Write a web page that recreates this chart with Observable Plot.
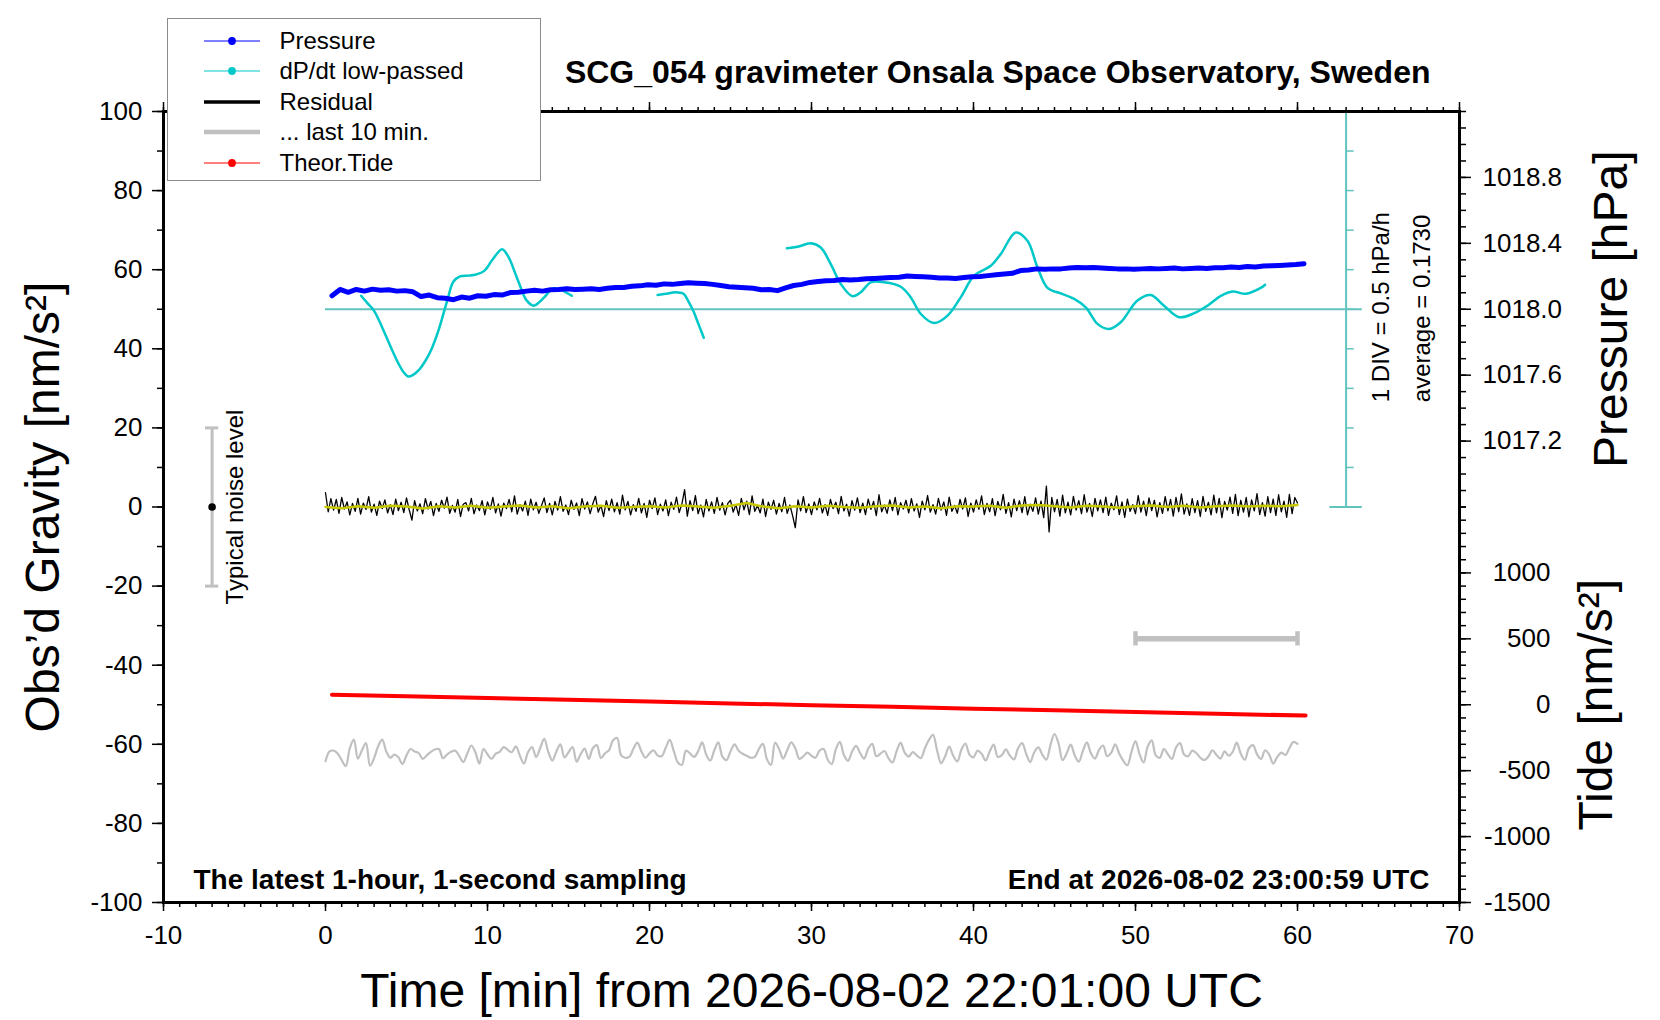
<!DOCTYPE html>
<html>
<head>
<meta charset="utf-8">
<script src="https://cdn.jsdelivr.net/npm/d3@7"></script>
<script src="https://cdn.jsdelivr.net/npm/@observablehq/plot@0.6"></script>
<style>
html, body { margin: 0; padding: 0; background: #fff; overflow: hidden; }
#wrap { position: relative; width: 1660px; height: 1020px; }
#legend { position: absolute; left: 167px; top: 18px; width: 374px; height: 163px; box-sizing: border-box;
  border: 1.5px solid #8c8c8c; background: #fff; font-family: "Liberation Sans", Arial, sans-serif; font-size: 24px; color: #000; }
#legend .row { position: absolute; left: 0; height: 30px; width: 100%; }
#legend .row svg { position: absolute; left: 35.5px; top: 8px; }
#legend .row span { position: absolute; left: 111.5px; top: 1px; line-height: 28px; white-space: nowrap; }
</style>
</head>
<body>
<div id="wrap"><div id="legend"></div></div>
<script>
// ---------------- DATA ----------------
const titleText = "SCG_054 gravimeter Onsala Space Observatory, Sweden";
const xLabel = "Time [min] from 2026-08-02 22:01:00 UTC";
const yLabel = "Obs\u2019d Gravity [nm/s\u00b2]";
const pressureLabel = "Pressure [hPa]";
const tideLabel = "Tide [nm/s\u00b2]";
const leftNote = "The latest 1-hour, 1-second sampling";
const rightNote = "End at 2026-08-02 23:00:59 UTC";

const xTicks = [-10, 0, 10, 20, 30, 40, 50, 60, 70];
const yTicks = [-100, -80, -60, -40, -20, 0, 20, 40, 60, 80, 100];
const pressureTicks = [1017.2, 1017.6, 1018.0, 1018.4, 1018.8];
const tideTicks = [-1500, -1000, -500, 0, 500, 1000];

// legend
const legendLabels = ["Pressure", "dP/dt low-passed", "Residual", "... last 10 min.", "Theor.Tide"];
const legendColors = ["#0000ff", "#00c8c8", "#000000", "#c0c0c0", "#ff0000"];
const legendWidths = [1.2, 1.2, 3.5, 4.5, 1.2];
const legendDots = [true, true, false, false, true];

// Pressure [hPa], every 0.5 min starting at 0.4 min
const pressureStart = 0.4, pressureStep = 0.5;
const pressureHPa = [
  1018.082, 1018.120, 1018.103, 1018.120, 1018.110, 1018.122, 1018.115, 1018.118, 1018.110, 1018.113,
  1018.106, 1018.077, 1018.086, 1018.070, 1018.067, 1018.058, 1018.074, 1018.067, 1018.082, 1018.079,
  1018.089, 1018.086, 1018.101, 1018.103, 1018.110, 1018.115, 1018.110, 1018.118, 1018.120, 1018.125,
  1018.120, 1018.122, 1018.125, 1018.120, 1018.127, 1018.132, 1018.132, 1018.139, 1018.142, 1018.149,
  1018.146, 1018.154, 1018.151, 1018.156, 1018.161, 1018.158, 1018.156, 1018.151, 1018.144, 1018.137,
  1018.134, 1018.130, 1018.127, 1018.118, 1018.120, 1018.113, 1018.130, 1018.144, 1018.151, 1018.163,
  1018.168, 1018.173, 1018.175, 1018.180, 1018.178, 1018.180, 1018.185, 1018.187, 1018.190, 1018.192,
  1018.194, 1018.202, 1018.199, 1018.197, 1018.194, 1018.190, 1018.190, 1018.187, 1018.192, 1018.197,
  1018.199, 1018.204, 1018.209, 1018.214, 1018.218, 1018.235, 1018.238, 1018.245, 1018.242, 1018.245,
  1018.245, 1018.250, 1018.254, 1018.252, 1018.254, 1018.250, 1018.247, 1018.245, 1018.245, 1018.242,
  1018.245, 1018.247, 1018.245, 1018.247, 1018.250, 1018.245, 1018.247, 1018.250, 1018.247, 1018.252,
  1018.252, 1018.257, 1018.254, 1018.259, 1018.257, 1018.262, 1018.264, 1018.266, 1018.269, 1018.271,
  1018.276
];

// dP/dt low-passed [hPa/h], three pieces
const dpdtAverage = 0.1730;
const divStep = 0.5;          // hPa/h per division
const cyanSegment = [
  1,1,1,1,1,1,1,1,1,1,1,1,1,1,1,1,1,1,1,1,1,1,1,1,1,1,1,1,1,1,
  2,2,2,2,2,2,2,2,
  3,3,3,3,3,3,3,3,3,3,3,3,3,3,3,3,3,3,3,3,3,3,3,3,3,3,3,3,3,3,3,3,3,3,3,3,3,3,3,3
];
const cyanTime = [
  2.2, 2.6, 3.0, 3.5, 4.0, 4.5, 4.8, 5.1, 5.4, 5.8, 6.2, 6.5, 7.0, 7.5, 7.9, 8.3, 8.8, 9.3, 9.8, 10.3,
  10.9, 11.3, 11.7, 12.05, 12.4, 12.86, 13.2, 13.5, 14.1, 15.2,
  20.5, 21.0, 21.6, 22.1, 22.4, 22.7, 23.0, 23.35,
  28.48, 29.14, 29.96, 30.57, 31.19, 31.81, 32.53, 33.04, 33.66, 34.48, 35.51, 36.13, 36.75, 37.57, 38.4,
  39.21, 40.04, 41.07, 41.69, 42.61, 43.33, 43.95, 44.57, 45.39, 46.21, 46.93, 47.65, 48.37, 49.09, 50.12,
  50.94, 51.76, 52.69, 53.62, 54.44, 55.27, 55.99, 56.81, 57.73, 58.0
];
const cyanRate = [
  0.343, 0.248, 0.153, -0.057, -0.292, -0.512, -0.617, -0.677, -0.657, -0.587, -0.467, -0.352, -0.077, 0.273, 0.523, 0.588, 0.598, 0.613, 0.658, 0.798,
  0.933, 0.833, 0.633, 0.448, 0.288, 0.218, 0.263, 0.323, 0.438, 0.343,
  0.353, 0.368, 0.388, 0.368, 0.273, 0.153, -0.002, -0.187,
  0.943, 0.963, 1.006, 0.953, 0.743, 0.493, 0.338, 0.388, 0.513, 0.513, 0.458, 0.323, 0.113, -0.002, 0.093,
  0.323, 0.598, 0.723, 0.873, 1.143, 1.038, 0.703, 0.443, 0.373, 0.303, 0.198, -0.012, -0.077, 0.008, 0.283,
  0.353, 0.218, 0.073, 0.123, 0.218, 0.343, 0.398, 0.368, 0.443, 0.483
];

// Residual [nm/s^2], every 10 s from 0 to 60 min
const residualStep = 1 / 6;
const residual = [
  3.6,-1.2,2.1,-0.8,1.9,-1.6,2.4,-0.5,1.3,-2.0,0.9,-1.1,
  2.2,-1.8,1.0,-0.6,2.6,-1.3,0.7,-2.1,1.5,-0.4,1.8,-1.5,
  0.6,-1.9,2.0,-0.9,1.2,-1.4,2.3,-0.7,-3.3,1.6,-1.0,0.8,
  -1.7,2.1,-0.5,1.4,-2.2,0.9,-1.1,1.7,-0.3,2.5,-1.6,0.4,
  -1.3,1.9,-2.4,0.7,1.1,-1.0,2.2,-1.7,0.5,-0.9,1.6,-2.0,
  1.3,-0.6,2.4,-1.5,0.8,-2.3,1.0,-0.4,1.9,-1.2,2.8,-1.8,
  0.6,-1.0,1.5,-2.1,2.0,-0.7,1.2,-1.6,0.3,2.3,-1.4,0.9,
  -2.0,1.4,-0.8,2.6,-1.1,0.5,-1.9,1.7,-0.6,1.0,-2.2,2.1,
  -0.5,1.3,-1.7,0.8,2.7,-1.3,0.4,-2.4,1.6,-0.9,2.0,-1.2,
  1.1,-1.8,3.0,-0.7,1.4,-2.0,0.6,-1.1,2.2,-1.5,0.9,-2.6,
  1.7,-0.4,2.3,-1.9,0.7,-1.0,1.8,-2.2,1.2,-0.6,2.5,-1.4,
  0.8,4.4,-2.3,1.6,-0.9,2.9,-1.7,0.5,-2.5,1.9,-1.0,1.3,
  -1.6,2.4,-0.8,1.1,-2.0,0.9,1.7,-1.3,0.6,-2.1,2.2,-0.7,
  1.5,-1.9,2.8,-1.1,0.4,-1.5,2.0,-2.4,1.2,-0.6,1.7,-1.8,
  0.9,-1.2,2.4,-1.6,0.5,-2.2,-5.2,1.8,-1.0,2.6,-1.4,0.8,
  -1.9,1.3,-0.7,2.2,-1.5,0.6,-2.1,1.9,-0.4,1.2,-1.7,2.7,
  -1.0,0.7,-2.3,1.6,-0.8,2.3,-1.4,1.0,-1.9,2.0,-0.6,1.4,
  -2.2,3.1,-1.2,0.5,-1.6,1.8,-0.9,2.4,-2.0,1.1,-0.5,1.7,
  -1.5,2.1,-1.0,0.8,-2.6,1.5,-0.7,2.9,-1.3,0.6,-1.8,2.2,
  -0.8,1.3,-2.1,2.5,-1.1,0.4,-1.6,1.9,-0.5,2.3,-2.4,1.0,
  -1.3,1.8,-0.6,2.8,-1.9,0.9,-1.2,2.1,-2.2,1.4,-0.7,3.2,
  -1.6,1.1,-2.5,2.0,-0.9,1.6,-1.4,2.6,-2.0,0.7,-1.1,2.3,
  -1.8,1.5,-2.7,5.3,-6.3,2.4,-1.2,1.9,-2.3,3.0,-1.5,1.2,
  -2.0,2.7,-0.8,1.6,-1.7,3.1,-1.3,0.9,-2.4,2.2,-1.0,1.8,
  -1.4,2.5,-2.1,1.0,-0.7,2.8,-1.9,1.3,-2.6,2.0,-1.1,0.6,
  -1.7,2.9,-1.3,1.5,-2.2,2.3,-0.9,1.7,-2.5,1.1,-1.6,2.6,
  -1.0,1.9,-2.3,2.4,-1.2,3.3,-1.8,0.8,-2.1,2.1,-1.4,1.6,
  -2.4,2.7,-1.1,1.2,-2.0,3.0,-1.5,2.2,-2.7,1.4,-0.8,2.5,
  -1.6,3.2,-2.2,1.7,-1.3,2.4,-2.5,1.8,-1.0,3.4,-1.9,1.1,
  -2.3,2.6,-1.4,2.0,-2.1,3.1,-1.2,1.5,-2.6,3.2,-1.7,2.4,
  1.0
];

// Smoothed residual (yellow), every 1 min
const smoothedStep = 1;
const smoothed = [
  0.0,-0.3,0.2,-0.2,0.3,0.1,-0.4,0.2,-0.1,0.3,
  -0.2,0.1,0.4,-0.1,0.2,-0.3,0.1,0.3,-0.2,0.0,
  0.2,-0.1,0.4,0.1,-0.2,0.3,1.0,0.1,-0.3,0.2,
  -0.1,0.3,0.0,-0.2,0.2,0.4,-0.1,0.1,-0.3,0.2,
  0.1,0.3,-0.2,0.4,0.5,0.2,-0.1,0.3,0.1,-0.2,
  0.2,0.4,0.0,0.3,-0.1,0.2,0.4,0.1,0.3,0.2,
  0.5
];

// Theoretical tide [nm/s^2]
const tideTime = [0.4, 5, 10, 15, 20, 25, 30, 35, 40, 45, 50, 55, 60.5];
const tideValues = [76, 64, 51, 37, 24, 10, -3, -16, -30, -42, -55, -69, -82];

// "... last 10 min." trace as plotted [nm/s^2], every 0.25 min
const lastStep = 0.25;
const lastTen = [
  -64.3,-61.8,-61.6,-62.3,-64.0,-65.5,-61.0,-58.8,
  -63.6,-61.5,-59.7,-65.4,-63.5,-60.5,-58.8,-61.8,
  -63.4,-62.6,-63.3,-65.0,-62.8,-61.2,-61.8,-62.2,
  -63.7,-62.8,-61.9,-61.3,-61.2,-63.5,-62.6,-61.9,
  -61.6,-62.9,-64.5,-62.4,-60.3,-62.0,-64.9,-61.2,
  -62.5,-63.7,-62.4,-61.9,-60.7,-61.4,-62.0,-60.5,
  -62.9,-64.9,-62.0,-60.7,-63.2,-61.0,-58.6,-61.9,
  -64.1,-61.8,-60.0,-63.3,-62.0,-60.7,-64.4,-62.5,
  -61.1,-63.7,-61.0,-60.2,-63.5,-62.3,-61.5,-59.0,
  -58.4,-62.8,-63.4,-63.2,-61.2,-59.6,-61.8,-63.4,
  -62.3,-61.5,-62.8,-63.0,-60.9,-58.9,-61.7,-64.6,
  -65.2,-61.6,-62.3,-63.2,-61.8,-59.5,-62.6,-64.1,
  -61.5,-59.5,-63.1,-64.0,-61.8,-60.0,-61.6,-62.4,
  -62.9,-63.4,-63.2,-61.2,-59.9,-63.8,-65.2,-59.6,
  -61.2,-63.6,-61.5,-59.5,-61.0,-63.7,-63.0,-62.1,
  -62.9,-63.4,-61.6,-61.2,-63.9,-65.0,-61.3,-59.4,
  -62.7,-64.2,-61.9,-60.4,-62.2,-63.6,-61.1,-59.9,
  -63.0,-62.4,-61.7,-63.5,-64.6,-61.8,-59.6,-62.1,
  -63.1,-62.0,-62.8,-63.5,-61.0,-58.9,-57.6,-61.5,
  -64.8,-63.0,-60.6,-62.9,-64.3,-61.4,-59.8,-62.6,
  -63.3,-61.6,-62.4,-64.1,-61.8,-60.1,-63.2,-62.7,
  -61.3,-62.9,-63.8,-61.0,-59.7,-62.4,-64.5,-62.0,
  -60.8,-62.6,-63.9,-60.2,-57.4,-59.8,-64.0,-62.3,
  -60.1,-62.8,-64.4,-61.7,-59.5,-62.3,-63.6,-61.4,
  -60.3,-63.0,-62.1,-60.0,-62.4,-64.2,-65.3,-61.9,
  -59.2,-62.5,-64.6,-60.6,-59.0,-62.8,-63.4,-61.2,
  -62.5,-63.7,-60.8,-59.7,-62.6,-63.0,-61.6,-62.2,
  -63.4,-64.0,-63.1,-61.5,-62.7,-63.6,-61.8,-62.9,
  -61.9,-59.6,-62.4,-63.9,-61.0,-60.2,-62.5,-63.7,
  -61.5,-62.6,-64.9,-63.2,-62.1,-62.7,-61.0,-59.4,
  -59.9
];

// typical noise level bar, 10-minute span bar
const noiseX = [-7];
const noiseHalf = 20;
const spanStart = 50, spanEnd = 60, spanTide = 500;
const divX = 63;

// ---------------- twin-axis mappings onto the gravity scale ----------------
const pressureToG = p => 50 + (p - 1018.0) / 0.024;      // 0.4 hPa per 16.67 nm/s^2
const gToPressure = g => 1018.0 + (g - 50) * 0.024;
const tideToG = t => -50 + t / 30;                       // 1500 nm/s^2 per 50 units
const gToTide = g => (g + 50) * 30;
const rateToG = r => 50 + (r - dpdtAverage) * (10 / divStep); // 1 DIV = 10 units

// tables
const pressureData = pressureHPa.map((p, i) => ({t: pressureStart + pressureStep * i, g: pressureToG(p)}));
const cyanData = cyanTime.map((t, i) => ({t, g: rateToG(cyanRate[i]), seg: cyanSegment[i]}));
const residualData = residual.map((v, i) => ({t: i * residualStep, v}));
const smoothData = smoothed.map((v, i) => ({t: i * smoothedStep, v}));
const tideData = tideTime.map((t, i) => ({t, g: tideToG(tideValues[i])}));
const lastData = lastTen.map((v, i) => ({t: i * lastStep, v}));

const xMinor = d3.range(-10, 70.5, 1);
const yMinor = d3.range(-100, 100.5, 10);
const pressureMinor = d3.range(0, 25).map(i => 1016.8 + i * 0.1);
const tideMinor = d3.range(-1500, 1500.5, 100);
const divLevels = d3.range(-5, 6).map(k => dpdtAverage + k * divStep);

const teal = "#62c4bf";
const font = "'Liberation Sans', Arial, Helvetica, sans-serif";
const tickW = 1.5;

const chart = Plot.plot({
  width: 1660,
  height: 1020,
  marginLeft: 163,
  marginRight: 201,
  marginTop: 111,
  marginBottom: 118,
  x: {domain: [-10, 70], label: null},
  y: {domain: [-100, 100], label: null},
  style: {fontFamily: font, fontSize: "26px", background: "white", overflow: "visible"},
  marks: [
    // bottom & top time axes
    Plot.axisX(xMinor, {anchor: "bottom", tickSize: 5, fill: "none", strokeWidth: tickW, label: null}),
    Plot.axisX(xTicks, {anchor: "bottom", tickSize: 9, tickPadding: 14, strokeWidth: tickW, fontSize: 26,
      tickFormat: d => String(d), label: null}),
    Plot.axisX(xMinor, {anchor: "top", tickSize: 5, fill: "none", strokeWidth: tickW, label: null}),
    Plot.axisX(xTicks, {anchor: "top", tickSize: 10, fill: "none", strokeWidth: tickW, label: null}),
    // left gravity axis
    Plot.axisY(yMinor, {anchor: "left", tickSize: 6, fill: "none", strokeWidth: tickW, label: null}),
    Plot.axisY(yTicks, {anchor: "left", tickSize: 11, tickPadding: 10, strokeWidth: tickW, fontSize: 26,
      tickFormat: d => String(d), label: null}),
    // right pressure axis
    Plot.axisY(pressureMinor.map(pressureToG), {anchor: "right", tickSize: 6, fill: "none", strokeWidth: tickW, label: null}),
    Plot.axisY(pressureTicks.map(pressureToG), {anchor: "right", tickSize: 11, tickPadding: 12, strokeWidth: tickW,
      fontSize: 26, tickFormat: g => gToPressure(g).toFixed(1), label: null}),
    // right tide axis
    Plot.axisY(tideMinor.map(tideToG), {anchor: "right", tickSize: 6, fill: "none", strokeWidth: tickW, label: null}),
    Plot.axisY(tideTicks.map(tideToG), {anchor: "right", tickSize: 11, tickPadding: 80, textAnchor: "end",
      strokeWidth: tickW, fontSize: 26, tickFormat: g => String(Math.round(gToTide(g))), label: null}),

    // dP/dt reference level and division scale
    Plot.ruleY([dpdtAverage], {y: rateToG, x1: 0, x2: divX + 1, stroke: teal, strokeWidth: 2}),
    Plot.ruleX([divX], {y1: rateToG(divLevels[0]), y2: rateToG(divLevels[divLevels.length - 1]), stroke: teal, strokeWidth: 2}),
    Plot.ruleY(divLevels.slice(1, -1), {y: rateToG, x1: divX, x2: divX + 0.5, stroke: teal, strokeWidth: 1.5}),
    Plot.ruleY([divLevels[0], divLevels[divLevels.length - 1]], {y: rateToG, x1: divX - 1, x2: divX + 1, stroke: teal, strokeWidth: 2}),
    Plot.text([`1 DIV = ${divStep} hPa/h`], {x: 65.15, y: 26.5, rotate: -90, textAnchor: "start", lineAnchor: "middle", fontSize: 24}),
    Plot.text([`average = ${dpdtAverage.toFixed(4)}`], {x: 67.7, y: 26.5, rotate: -90, textAnchor: "start", lineAnchor: "middle", fontSize: 24}),

    // data
    Plot.line(cyanData, {x: "t", y: "g", z: "seg", stroke: "#00c8c8", strokeWidth: 2.5, curve: "catmull-rom"}),
    Plot.line(pressureData, {x: "t", y: "g", stroke: "#0000ff", strokeWidth: 5, strokeLinejoin: "round"}),
    Plot.line(residualData, {x: "t", y: "v", stroke: "#000000", strokeWidth: 1.3}),
    Plot.line(smoothData, {x: "t", y: "v", stroke: "#c8c800", strokeWidth: 2.5}),
    Plot.line(tideData, {x: "t", y: "g", stroke: "#ff0000", strokeWidth: 4}),
    Plot.line(lastData, {x: "t", y: "v", stroke: "#c0c0c0", strokeWidth: 2.2, curve: "catmull-rom"}),

    // 10 min span marker
    Plot.ruleY([spanTide], {y: tideToG, x1: spanStart, x2: spanEnd, stroke: "#c0c0c0", strokeWidth: 5.5}),
    Plot.ruleX([spanStart, spanEnd], {y1: tideToG(spanTide) - 1.8, y2: tideToG(spanTide) + 1.8, stroke: "#c0c0c0", strokeWidth: 4.5}),

    // typical noise level
    Plot.ruleX(noiseX, {y1: -noiseHalf, y2: noiseHalf, stroke: "#c0c0c0", strokeWidth: 3}),
    Plot.ruleY([-noiseHalf, noiseHalf], {x1: noiseX[0] - 0.41, x2: noiseX[0] + 0.41, stroke: "#c0c0c0", strokeWidth: 3}),
    Plot.dot([0], {x: () => noiseX[0], y: d => d, r: 3.8, fill: "black", stroke: "none"}),
    Plot.text(["Typical noise level"], {x: noiseX[0] + 1.43, y: 0, rotate: -90, textAnchor: "middle", lineAnchor: "middle", fontSize: 24}),

    // frame
    Plot.frame({stroke: "black", strokeWidth: 3}),

    // texts
    Plot.text([titleText], {frameAnchor: "top-right", dx: -29, dy: -29, textAnchor: "end", lineAnchor: "bottom",
      fontSize: 32, fontWeight: "bold"}),
    Plot.text([leftNote], {frameAnchor: "bottom-left", dx: 30, dy: -14, textAnchor: "start", lineAnchor: "bottom",
      fontSize: 28, fontWeight: "bold"}),
    Plot.text([rightNote], {frameAnchor: "bottom-right", dx: -30, dy: -14, textAnchor: "end", lineAnchor: "bottom",
      fontSize: 28, fontWeight: "bold"}),
    Plot.text([xLabel], {frameAnchor: "bottom", dy: 104, textAnchor: "middle", lineAnchor: "bottom", fontSize: 48}),
    Plot.text([yLabel], {frameAnchor: "left", dx: -119.5, rotate: -90, textAnchor: "middle", lineAnchor: "middle", fontSize: 48}),
    Plot.text([pressureLabel], {x: 70, y: pressureToG(1018.0), dx: 152, rotate: -90, textAnchor: "middle", lineAnchor: "middle", fontSize: 48}),
    Plot.text([tideLabel], {x: 70, y: tideToG(0), dx: 137, rotate: -90, textAnchor: "middle", lineAnchor: "middle", fontSize: 48})
  ]
});

const wrap = document.getElementById("wrap");
wrap.insertBefore(chart, wrap.firstChild);

// legend (HTML, above the plot frame like the reference)
const legend = document.getElementById("legend");
legendLabels.forEach((label, i) => {
  const row = document.createElement("div");
  row.className = "row";
  row.style.top = (6.5 + i * 30.5) + "px";
  const dot = legendDots[i] ? `<circle cx="28" cy="7" r="3.9" fill="${legendColors[i]}"/>` : "";
  row.innerHTML = `<svg width="56" height="14"><line x1="0" x2="56" y1="7" y2="7" stroke="${legendColors[i]}" stroke-width="${legendWidths[i]}"/>${dot}</svg><span>${label}</span>`;
  legend.appendChild(row);
});
</script>
</body>
</html>
